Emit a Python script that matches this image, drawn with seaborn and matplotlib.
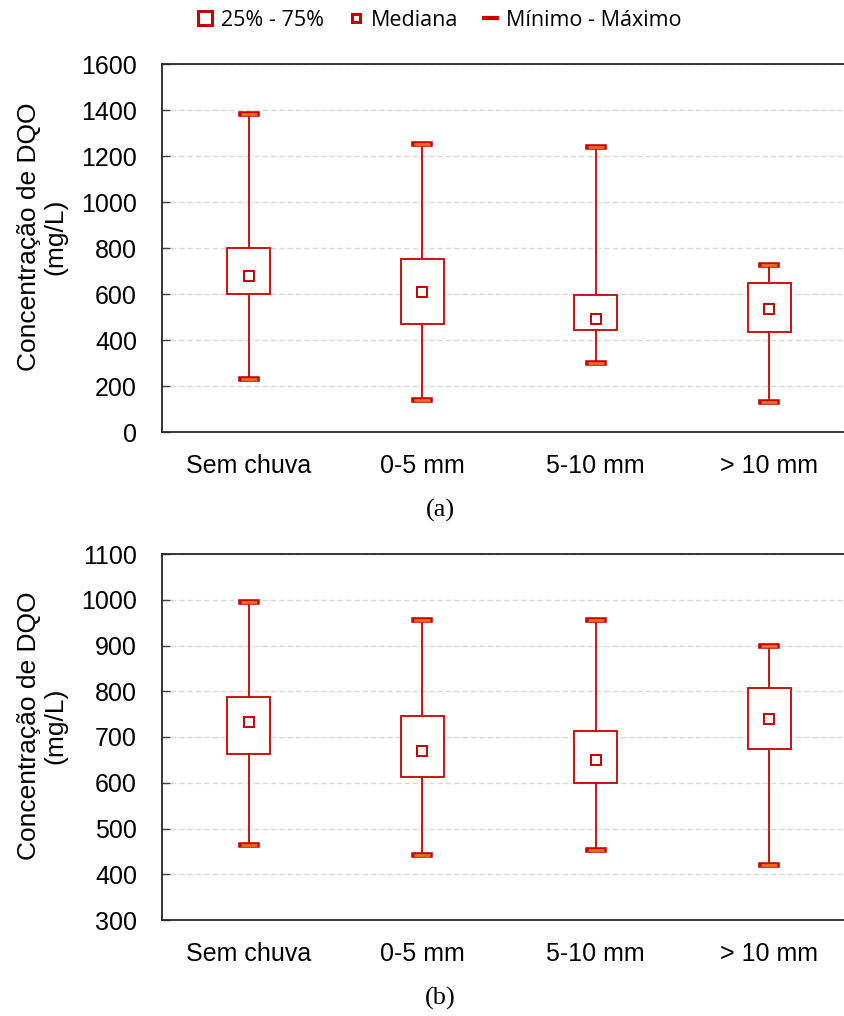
import numpy as np
import pandas as pd
import seaborn as sns
import matplotlib.pyplot as plt
import matplotlib.patheffects as pe
from matplotlib.lines import Line2D

# categorias e estatisticas (mg/L)
categorias = ['Sem chuva', '0-5 mm', '5-10 mm', '> 10 mm']

# (a)
min_a = [230, 140, 300, 130]
q1_a = [600, 470, 443, 436]
med_a = [680, 607, 491, 535]
q3_a = [800, 751, 596, 650]
max_a = [1382, 1253, 1240, 727]

# (b)
min_b = [463, 442, 454, 420]
q1_b = [662, 612, 600, 674]
med_b = [733, 669, 650, 740]
q3_b = [788, 745, 713, 808]
max_b = [994, 956, 956, 899]

VERMELHO = '#c80000'
LARANJA = '#f26a1f'

sns.set_theme(style='white')
plt.rcParams['font.family'] = ['Liberation Sans', 'DejaVu Sans']
plt.rcParams['text.color'] = 'black'
plt.rcParams['axes.labelcolor'] = 'black'


def painel(ax, mins, q1s, meds, q3s, maxs, ylim, passo):
    # cinco valores por categoria -> quartis exatos com whis=(0, 100)
    linhas = []
    for cat, a, b, c, d, e in zip(categorias, mins, q1s, meds, q3s, maxs):
        for v in (a, b, c, d, e):
            linhas.append({'categoria': cat, 'valor': v})
    df = pd.DataFrame(linhas)

    sns.boxplot(data=df, x='categoria', y='valor', order=categorias, ax=ax,
                whis=(0, 100), width=0.25, color='white', linecolor=VERMELHO,
                linewidth=1.3, showfliers=False, saturation=1,
                capwidths=0.09,
                medianprops=dict(visible=False),
                whiskerprops=dict(color=VERMELHO, linewidth=1.3),
                capprops=dict(color=LARANJA, linewidth=2.0, solid_capstyle='butt',
                              path_effects=[pe.Stroke(linewidth=4.0, foreground=VERMELHO,
                                                      capstyle='projecting'),
                                            pe.Normal()]))

    sns.pointplot(x=categorias, y=meds, ax=ax, color=VERMELHO, markers='s',
                  linestyles='none', errorbar=None, markersize=7,
                  markerfacecolor='white', markeredgewidth=1.4, zorder=5)

    ax.set_xlim(-0.5, 3.5)
    ax.set_ylim(*ylim)
    ax.set_yticks(np.arange(ylim[0], ylim[1] + 1, passo))
    ax.set_xlabel('')
    ax.set_ylabel('Concentração de DQO\n(mg/L)', fontsize=19,
                  linespacing=1.1, color='black')
    ax.yaxis.set_label_coords(-0.137, 0.53)

    ax.set_axisbelow(True)
    ax.yaxis.grid(True, linestyle=(0, (4, 2)), color='#d9d9d9', linewidth=1)
    ax.xaxis.grid(False)

    ax.set_xticks([0.5, 1.5, 2.5], minor=True)
    ax.tick_params(axis='x', which='major', length=0, pad=16, labelsize=18,
                   labelcolor='black')
    ax.tick_params(axis='x', which='minor', direction='in', length=6, width=1,
                   color='#404040')
    ax.tick_params(axis='y', direction='in', length=6, width=1, color='#404040',
                   pad=18, labelsize=18, labelcolor='black', left=True)
    for lado in ('left', 'bottom', 'top'):
        ax.spines[lado].set_color('#262626')
        ax.spines[lado].set_linewidth(1.3)
    ax.spines['right'].set_visible(False)


fig = plt.figure(figsize=(8.45, 10.16), dpi=100)
ax1 = fig.add_axes([162 / 845, 1 - 432 / 1016, 694 / 845, 368 / 1016])
ax2 = fig.add_axes([162 / 845, 1 - 920 / 1016, 694 / 845, 366 / 1016])

painel(ax1, min_a, q1_a, med_a, q3_a, max_a, (0, 1600), 200)
painel(ax2, min_b, q1_b, med_b, q3_b, max_b, (300, 1100), 100)

fig.text(440 / 845, 1 - 510 / 1016, '(a)', ha='center', va='center',
         fontsize=19, family='Liberation Serif')
fig.text(440 / 845, 1 - 998 / 1016, '(b)', ha='center', va='center',
         fontsize=19, family='Liberation Serif')

handles = [
    Line2D([], [], marker='s', ls='none', ms=10, mfc='white', mec=VERMELHO, mew=2.2),
    Line2D([], [], marker='s', ls='none', ms=5.5, mfc='white', mec=VERMELHO, mew=2.2),
    Line2D([], [], color=VERMELHO, lw=3, solid_capstyle='butt'),
]
rotulos = ['25% - 75%', 'Mediana', 'Mínimo - Máximo']
fig.legend(handles, rotulos, loc='center', bbox_to_anchor=(439 / 845, 1 - 20 / 1016),
           ncol=3, frameon=False, handlelength=0.8, handletextpad=0.3,
           columnspacing=1.1, prop={'family': ['Open Sans', 'DejaVu Sans'], 'size': 15.5})

fig.savefig('out.png', dpi=100)
